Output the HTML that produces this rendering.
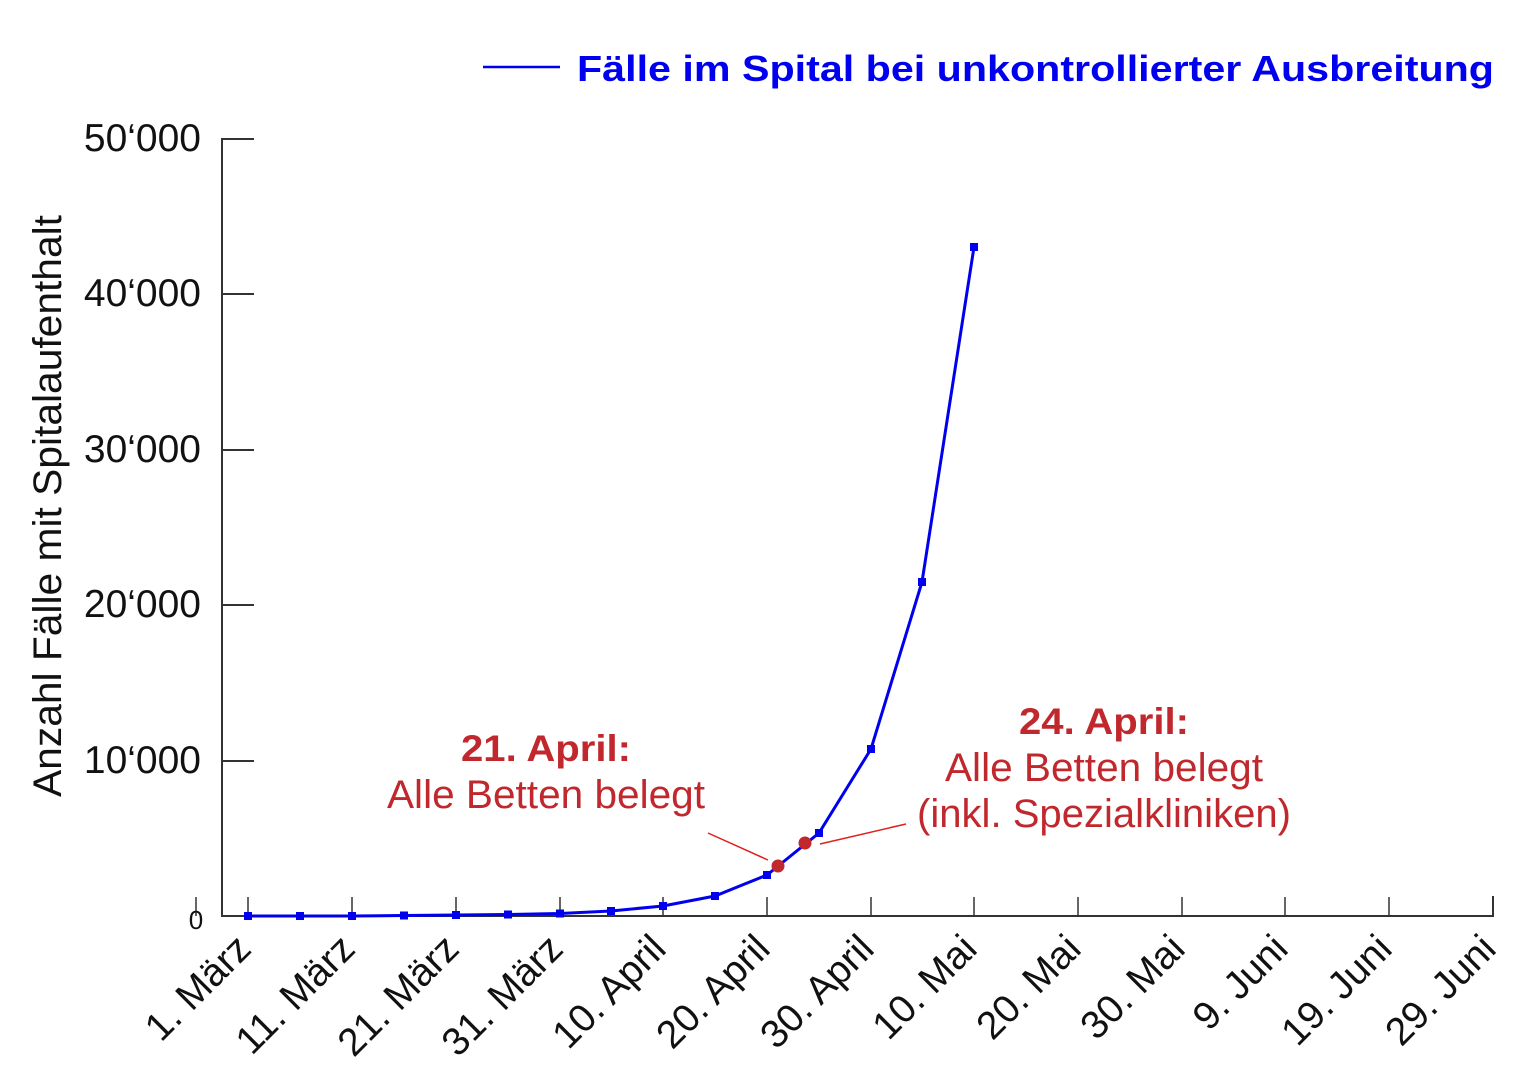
<!DOCTYPE html>
<html><head><meta charset="utf-8"><style>
html,body{margin:0;padding:0;background:#fff;}
svg{display:block;font-family:"Liberation Sans",sans-serif;}
</style></head><body>
<svg width="1536" height="1079" viewBox="0 0 1536 1079" xmlns="http://www.w3.org/2000/svg">
<rect width="1536" height="1079" fill="#fff"/>
<line x1="483" y1="67" x2="560" y2="67" stroke="#0000ee" stroke-width="2.5"/>
<text x="577" y="81" font-size="36" font-weight="bold" fill="#0000ee" textLength="917" lengthAdjust="spacingAndGlyphs">Fälle im Spital bei unkontrollierter Ausbreitung</text>
<g stroke="#333" stroke-width="2" fill="none">
<line x1="222" y1="138" x2="222" y2="917"/>
<line x1="221" y1="916" x2="1494" y2="916"/>
<line x1="1493" y1="896" x2="1493" y2="916"/>
<line x1="222" y1="139" x2="254" y2="139"/>
<line x1="222" y1="294" x2="254" y2="294"/>
<line x1="222" y1="450" x2="254" y2="450"/>
<line x1="222" y1="605" x2="254" y2="605"/>
<line x1="222" y1="761" x2="254" y2="761"/>
<line x1="196" y1="897" x2="196" y2="916" stroke-width="1.5"/>
</g>
<g stroke="#333" stroke-width="1.5">
<line x1="248" y1="897" x2="248" y2="916"/><line x1="352" y1="897" x2="352" y2="916"/>
<line x1="456" y1="897" x2="456" y2="916"/><line x1="560" y1="897" x2="560" y2="916"/>
<line x1="663" y1="897" x2="663" y2="916"/><line x1="767" y1="897" x2="767" y2="916"/>
<line x1="871" y1="897" x2="871" y2="916"/><line x1="974" y1="897" x2="974" y2="916"/>
<line x1="1078" y1="897" x2="1078" y2="916"/><line x1="1182" y1="897" x2="1182" y2="916"/>
<line x1="1285" y1="897" x2="1285" y2="916"/><line x1="1389" y1="897" x2="1389" y2="916"/>
</g>
<g font-size="39" fill="#111" text-anchor="end">
<text x="201" y="151">50‘000</text>
<text x="201" y="306">40‘000</text>
<text x="201" y="462">30‘000</text>
<text x="201" y="617">20‘000</text>
<text x="201" y="773">10‘000</text>
</g>
<text x="196" y="929" font-size="26" fill="#111" text-anchor="middle">0</text>
<text transform="translate(61,506) rotate(-90)" font-size="40" fill="#111" text-anchor="middle" textLength="582" lengthAdjust="spacingAndGlyphs">Anzahl Fälle mit Spitalaufenthalt</text>
<g font-size="39" fill="#111" text-anchor="end">
<text transform="translate(253,951) rotate(-45)">1. März</text>
<text transform="translate(357,951) rotate(-45)">11. März</text>
<text transform="translate(461,951) rotate(-45)">21. März</text>
<text transform="translate(565,951) rotate(-45)">31. März</text>
<text transform="translate(668,951) rotate(-45)">10. April</text>
<text transform="translate(772,951) rotate(-45)">20. April</text>
<text transform="translate(876,951) rotate(-45)">30. April</text>
<text transform="translate(979,951) rotate(-45)">10. Mai</text>
<text transform="translate(1083,951) rotate(-45)">20. Mai</text>
<text transform="translate(1187,951) rotate(-45)">30. Mai</text>
<text transform="translate(1290,951) rotate(-45)">9. Juni</text>
<text transform="translate(1394,951) rotate(-45)">19. Juni</text>
<text transform="translate(1498,951) rotate(-45)">29. Juni</text>
</g>
<polyline fill="none" stroke="#0000ee" stroke-width="3" points="248,916 300,916 352,916 404,915.5 456,915 508,914.5 560,913.5 611,911 663,906 715,896 767,875 819,833 871,749 922,582 974,247"/>
<g fill="#0000ee">
<rect x="244" y="912" width="8" height="8"/><rect x="296" y="912" width="8" height="8"/>
<rect x="348" y="912" width="8" height="8"/><rect x="400" y="911.5" width="8" height="8"/>
<rect x="452" y="911" width="8" height="8"/><rect x="504" y="910.5" width="8" height="8"/>
<rect x="556" y="909.5" width="8" height="8"/><rect x="607" y="907" width="8" height="8"/>
<rect x="659" y="902" width="8" height="8"/><rect x="711" y="892" width="8" height="8"/>
<rect x="763" y="871" width="8" height="8"/><rect x="815" y="829" width="8" height="8"/>
<rect x="867" y="745" width="8" height="8"/><rect x="918" y="578" width="8" height="8"/>
<rect x="970" y="243" width="8" height="8"/>
</g>
<line x1="708" y1="833" x2="768" y2="860" stroke="#e02020" stroke-width="1.5"/>
<line x1="820" y1="844" x2="906" y2="824" stroke="#e02020" stroke-width="1.5"/>
<circle cx="778" cy="866" r="6.5" fill="#c0282d"/>
<circle cx="805" cy="843" r="6.5" fill="#c0282d"/>
<g fill="#c0282d" text-anchor="middle">
<text x="546" y="761" font-size="37" font-weight="bold" textLength="170" lengthAdjust="spacingAndGlyphs">21. April:</text>
<text x="546" y="808" font-size="40" textLength="318" lengthAdjust="spacingAndGlyphs">Alle Betten belegt</text>
<text x="1104" y="734" font-size="37" font-weight="bold" textLength="170" lengthAdjust="spacingAndGlyphs">24. April:</text>
<text x="1104" y="781" font-size="40" textLength="318" lengthAdjust="spacingAndGlyphs">Alle Betten belegt</text>
<text x="1104" y="827" font-size="40" textLength="374" lengthAdjust="spacingAndGlyphs">(inkl. Spezialkliniken)</text>
</g>
</svg>
</body></html>
